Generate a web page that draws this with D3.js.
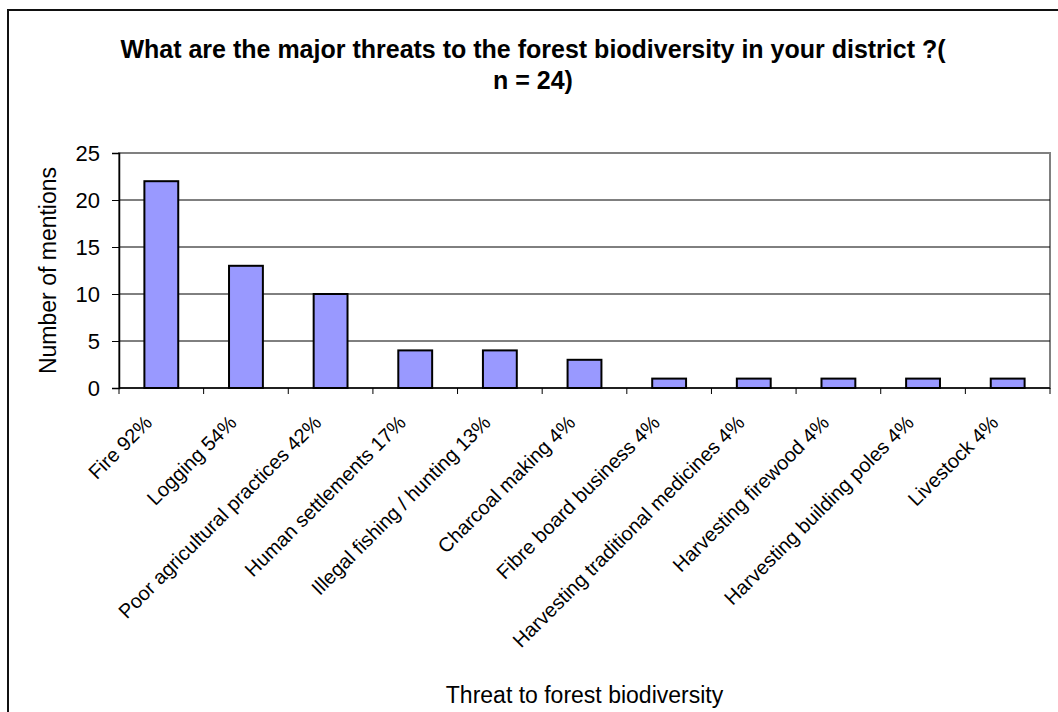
<!DOCTYPE html>
<html lang="en">
<head>
<meta charset="utf-8">
<script src="https://d3js.org/d3.v7.min.js"></script>
<style>
  body { margin: 0; background: #fff; }
  text { font-family: "Liberation Sans", Arial, sans-serif; fill: #000; }
</style>
</head>
<body>
<svg width="1058" height="712"></svg>
<script>
// data
var categories = [
  "Fire 92%", "Logging 54%", "Poor agricultural practices 42%",
  "Human settlements 17%", "Illegal fishing / hunting 13%",
  "Charcoal making 4%", "Fibre board business 4%",
  "Harvesting traditional medicines 4%", "Harvesting firewood 4%",
  "Harvesting building poles 4%", "Livestock 4%"
];
var mentions = [22, 13, 10, 4, 4, 3, 1, 1, 1, 1, 1];
var yTicks = [0, 5, 10, 15, 20, 25];

var svg = d3.select("svg");

// outer chart frame
svg.append("rect")
    .attr("x", 8).attr("y", 10)
    .attr("width", 1200).attr("height", 900)
    .attr("fill", "none").attr("stroke", "#111").attr("stroke-width", 2);

var plotLeft = 119, plotRight = 1050, plotTop = 153, plotBottom = 388;

var x = d3.scaleBand()
    .domain(categories)
    .range([plotLeft, plotRight])
    .paddingInner(0.6)
    .paddingOuter(0.3);

var y = d3.scaleLinear().domain([0, 25]).range([plotBottom, plotTop]);

// plot area border (grey)
svg.append("rect")
    .attr("x", plotLeft).attr("y", plotTop)
    .attr("width", plotRight - plotLeft).attr("height", plotBottom - plotTop)
    .attr("fill", "none").attr("stroke", "#808080").attr("stroke-width", 2);

// gridlines
svg.append("g")
  .selectAll("line")
  .data(yTicks.filter(function(d) { return d > 0 && d < 25; }))
  .join("line")
    .attr("x1", plotLeft).attr("x2", plotRight)
    .attr("y1", function(d) { return y(d); })
    .attr("y2", function(d) { return y(d); })
    .attr("stroke", "#000").attr("stroke-width", 1);

// bars
svg.append("g")
  .selectAll("rect")
  .data(mentions)
  .join("rect")
    .attr("x", function(d, i) { return x(categories[i]); })
    .attr("y", function(d) { return y(d); })
    .attr("width", x.bandwidth())
    .attr("height", function(d) { return y(0) - y(d); })
    .attr("fill", "#9999ff")
    .attr("stroke", "#000")
    .attr("stroke-width", 2);

// y axis
var yAxis = svg.append("g")
    .attr("transform", "translate(" + plotLeft + ",0)")
    .call(d3.axisLeft(y).tickValues(yTicks).tickSize(7).tickPadding(12));
yAxis.attr("font-family", null).attr("font-size", null);
yAxis.select(".domain").attr("stroke", "#000").attr("stroke-width", 1.5);
yAxis.selectAll(".tick line").attr("stroke", "#000");
yAxis.selectAll(".tick text")
    .style("font-size", "22px")
    .attr("fill", "#000");

// x axis: ticks at category boundaries
var step = x.step();
var bounds = d3.range(categories.length + 1).map(function(i) { return plotLeft + i * step; });
svg.append("line")
    .attr("x1", plotLeft).attr("x2", plotRight)
    .attr("y1", plotBottom).attr("y2", plotBottom)
    .attr("stroke", "#000").attr("stroke-width", 1.5);
svg.append("g")
  .selectAll("line")
  .data(bounds)
  .join("line")
    .attr("x1", function(d) { return d; }).attr("x2", function(d) { return d; })
    .attr("y1", plotBottom).attr("y2", plotBottom + 6)
    .attr("stroke", "#000");

// rotated category labels
svg.append("g")
  .selectAll("text")
  .data(categories)
  .join("text")
    .attr("transform", function(d) {
      return "translate(" + (x(d) + x.bandwidth() / 2 - 13) + "," + (plotBottom + 31) + ") rotate(-45)";
    })
    .attr("text-anchor", "end")
    .attr("dy", "0.35em")
    .style("font-size", "20px")
    .text(function(d) { return d; });

// title
var title = svg.append("text")
    .attr("text-anchor", "middle")
    .style("font-size", "25px")
    .style("font-weight", "bold");
title.append("tspan").attr("x", 533).attr("y", 58)
    .text("What are the major threats to the forest biodiversity in your district ?(");
title.append("tspan").attr("x", 533).attr("y", 89).text("n = 24)");

// axis titles
svg.append("text")
    .attr("transform", "translate(56," + ((plotTop + plotBottom) / 2) + ") rotate(-90)")
    .attr("text-anchor", "middle")
    .style("font-size", "23px")
    .text("Number of mentions");

svg.append("text")
    .attr("x", (plotLeft + plotRight) / 2).attr("y", 703)
    .attr("text-anchor", "middle")
    .style("font-size", "23px")
    .text("Threat to forest biodiversity");
</script>
</body>
</html>
